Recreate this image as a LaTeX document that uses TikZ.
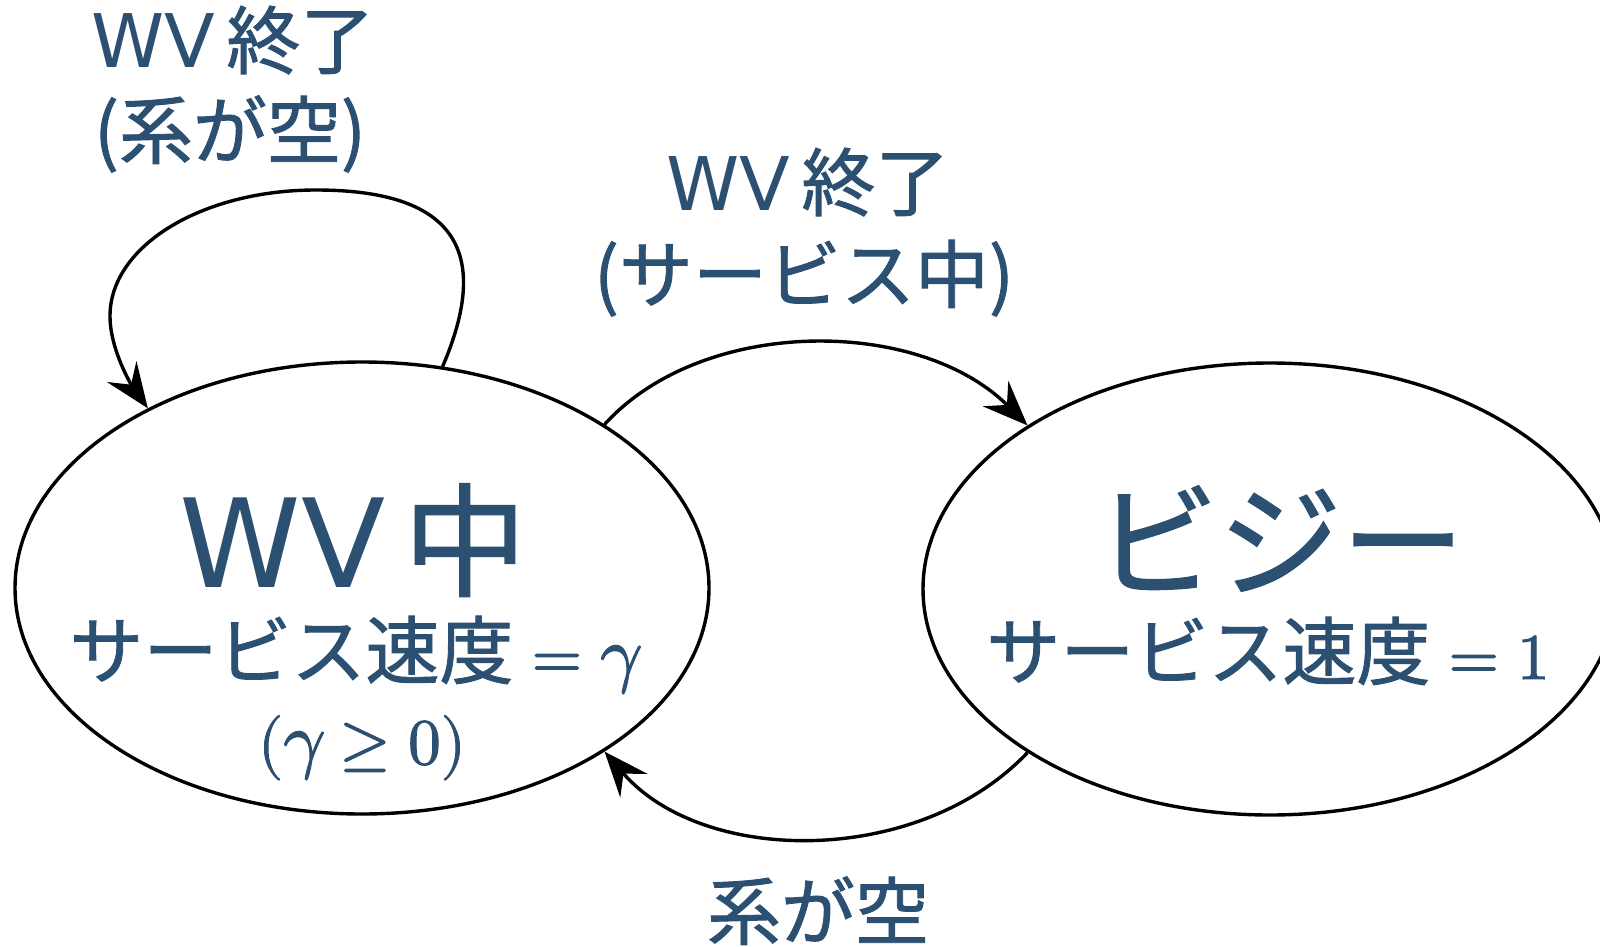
\RequirePackage{fix-cm}
\documentclass[tikz,border=0pt]{standalone}
\usepackage[no-math]{fontspec}
\setmainfont{DejaVu Sans}
\newfontfamily\jp{Noto Sans CJK JP}[FakeBold=1.2]
\newfontfamily\lmm{latinmodern-math.otf}[FakeBold=1.6]
\usetikzlibrary{shapes.geometric,arrows.meta}
\definecolor{txt}{RGB}{44,80,114}
\newcommand{\mth}[1]{{\lmm\fontsize{65}{78}\selectfont #1}}
\newcommand{\gam}{{\fontsize{74}{88}\selectfont 𝛾}}
\newcommand{\thk}{\hspace{0.2778em}}
\newcommand{\gap}{\hspace{0.15em}}
\begin{document}
\begin{tikzpicture}[x=1pt,y=-1pt,
  state/.style={ellipse,draw,line width=3.4pt,inner sep=0pt,minimum width=694pt,minimum height=452pt},
  big/.style={anchor=base,inner sep=0pt,text=txt,font=\fontsize{123}{148}\selectfont},
  sub/.style={anchor=base,inner sep=0pt,text=txt,font=\fontsize{74}{88}\selectfont},
  lbl/.style={anchor=base,inner sep=0pt,text=txt,font=\fontsize{74}{88}\selectfont},
  edge/.style={line width=3.4pt,-{Stealth[length=45pt,width=36pt,inset=16pt]}}]
\useasboundingbox (0,0) rectangle (1600,947);
\clip (0,0) rectangle (1600,947);
% states
\node[state] (L) at (362,588) {};
\node[state] (R) at (1270,589) {};
% state texts
\node[big] (lt) at (353,587) {WV\gap{\jp 中}};
\node[sub] (ls) at (354,678) {{\jp サービス速度}\mth{\thk=\thk\gam}};
\node[sub] (lc) at (362,764) {\mth{(\gam\thk≥\thk 0)}};
\node[big] (rt) at (1280,587) {\jp ビジー};
\node[sub] (rs) at (1268,679) {{\jp サービス速度}\mth{\thk=\thk 1}};
% edge labels
\node[lbl] (a1) at (233,68) {WV\gap{\jp 終了}};
\node[lbl] (a2) at (230,158) {\jp (系が空)};
\node[lbl] (b1) at (808,210) {WV\gap{\jp 終了}};
\node[lbl] (b2) at (804,302) {\jp (サービス中)};
\node[lbl] (c1) at (818,939) {\jp 系が空};
% connectors
\coordinate (lpTop) at (316,190);
\coordinate (lpLeft) at (110,316);
\draw[edge] (L.70) .. controls (497,240) and (442,190) .. (lpTop)
  .. controls (202,190) and (110,246) .. (lpLeft)
  .. controls (110,350) and (132,386) .. (L.140);
\draw[edge] (L.34) .. controls (703,316) and (919,317) .. (R.146);
\draw[edge] (R.214) .. controls (919,867) and (703,866) .. (L.326);
\end{tikzpicture}
\end{document}
